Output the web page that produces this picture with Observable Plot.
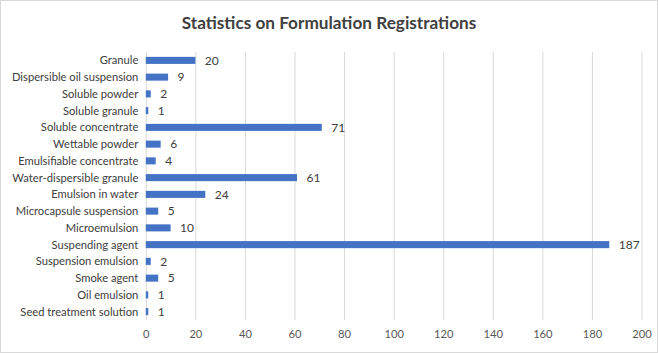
<!DOCTYPE html>
<html>
<head>
<meta charset="utf-8">
<script src="https://cdn.jsdelivr.net/npm/d3@7"></script>
<script src="https://cdn.jsdelivr.net/npm/@observablehq/plot@0.6"></script>
<style>
  html, body { margin: 0; padding: 0; background: #fff; }
  #wrap { width: 656px; height: 351px; border: 1px solid #d9d9d9; background: #fff; overflow: hidden; }
  #title { height: 40px; line-height: 43px; text-align: center; font-family: Lato, "Open Sans", sans-serif; font-weight: 700; font-size: 17.2px; color: #404040; }
  svg { display: block; }
</style>
</head>
<body>
<div id="wrap">
  <div id="title">Statistics on Formulation Registrations</div>
  <div id="chart"></div>
</div>
<script>
const categories = [
  "Granule",
  "Dispersible oil suspension",
  "Soluble powder",
  "Soluble granule",
  "Soluble concentrate",
  "Wettable powder",
  "Emulsifiable concentrate",
  "Water-dispersible granule",
  "Emulsion in water",
  "Microcapsule suspension",
  "Microemulsion",
  "Suspending agent",
  "Suspension emulsion",
  "Smoke agent",
  "Oil emulsion",
  "Seed treatment solution"
];
const counts = [20, 9, 2, 1, 71, 6, 4, 61, 24, 5, 10, 187, 2, 5, 1, 1];
const xTicks = [0, 20, 40, 60, 80, 100, 120, 140, 160, 180, 200];

const data = categories.map((c, i) => ({category: c, value: counts[i]}));

const chart = Plot.plot({
  width: 656,
  height: 311,
  marginTop: 11,
  marginBottom: 32,
  marginLeft: 144.8,
  marginRight: 15.5,
  style: {fontFamily: "Lato, 'Open Sans', sans-serif", fontSize: "11.2px", color: "#595959", background: "#fff"},
  x: {domain: [0, 200], ticks: xTicks, label: null},
  y: {domain: categories, label: null, paddingInner: 0.58, paddingOuter: 0.29, round: false},
  marks: [
    Plot.gridX(xTicks, {stroke: "#d9d9d9", strokeOpacity: 1}),
    Plot.axisX({ticks: xTicks, tickSize: 0, tickPadding: 10, label: null, fill: "#595959"}),
    Plot.axisY({tickSize: 0, tickPadding: 8, label: null, fill: "#404040"}),
    Plot.barX(data, {x: "value", y: "category", fill: "#4472C4"}),
    Plot.text(data, {x: "value", y: "category", text: d => String(d.value), dx: 9, textAnchor: "start", fill: "#404040", fontSize: 12})
  ]
});
document.getElementById("chart").appendChild(chart);
</script>
</body>
</html>
